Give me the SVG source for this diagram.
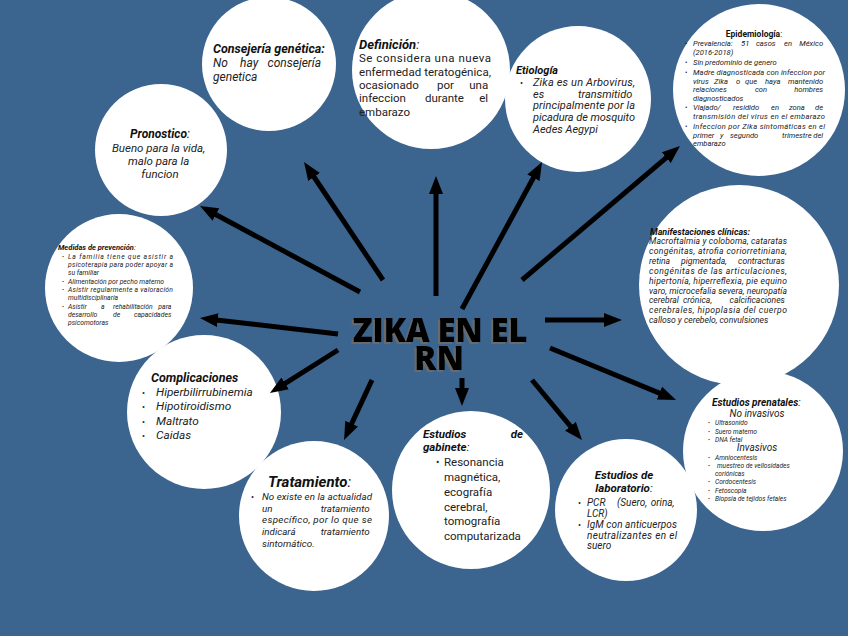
<svg xmlns="http://www.w3.org/2000/svg" width="848" height="636" viewBox="0 0 848 636">
<defs>
<style>
.c{fill:#ffffff}
.h{font-family:Roboto,"Liberation Sans",sans-serif;font-weight:700;font-style:italic;fill:#111}
.n{font-weight:400}
.b{font-family:Roboto,"Liberation Sans",sans-serif;font-style:italic;fill:#222}
.u{font-family:Roboto,"Liberation Sans",sans-serif;fill:#222}
.e{text-anchor:end}
.m{text-anchor:middle}
.ar line{stroke:#000;stroke-width:5;marker-end:url(#ah)}
.ti{font-family:"Open Sans","Liberation Sans",sans-serif;font-weight:800;font-size:33px;text-anchor:middle;fill:#000;filter:url(#sh)}
</style>
<filter id="sh" x="-10%" y="-20%" width="120%" height="140%">
<feDropShadow dx="-2" dy="2" stdDeviation="0.3" flood-color="#6a6a6a" flood-opacity="1"/>
</filter>
<marker id="ah" markerUnits="userSpaceOnUse" markerWidth="20" markerHeight="16" refX="6" refY="7" orient="auto">
<path d="M0,0 L18,7 L0,14 z" fill="#000"/>
</marker>
</defs>
<rect width="848" height="636" fill="#3b648e"/>

<g id="consejeria">
<circle class="c" cx="269" cy="64" r="67"/>
<text class="h" x="213" y="53" font-size="12.5">Consejería genética:</text>
<text class="b" font-size="12"><tspan x="213" y="67">No</tspan><tspan x="240" y="67">hay</tspan><tspan class="e" x="321" y="67">consejería</tspan><tspan x="213" y="81">genetica</tspan></text>
</g>

<g id="definicion">
<circle class="c" cx="431" cy="70" r="79"/>
<text class="h" x="359" y="49" font-size="13">Definición<tspan class="n">:</tspan></text>
<text class="u" font-size="11.5">
<tspan x="359" y="62" textLength="132" lengthAdjust="spacing">Se considera una nueva</tspan>
<tspan x="359" y="76" textLength="132" lengthAdjust="spacing">enfermedad teratogénica,</tspan>
<tspan x="359" y="89">ocasionado</tspan><tspan x="437" y="89">por</tspan><tspan class="e" x="491" y="89">una</tspan>
<tspan x="359" y="102">infeccion</tspan><tspan x="425" y="102">durante</tspan><tspan class="e" x="491" y="102">el</tspan>
<tspan x="359" y="116">embarazo</tspan>
</text>
</g>

<g id="etiologia">
<circle class="c" cx="578" cy="99" r="73"/>
<text class="h" x="516" y="74" font-size="11">Etiología</text>
<text class="u" x="520" y="86" font-size="9">•</text>
<text class="b" font-size="11">
<tspan x="533" y="86" textLength="102" lengthAdjust="spacing">Zika es un Arbovirus,</tspan>
<tspan x="533" y="97.5">es</tspan><tspan class="e" x="635" y="97.5">transmitido</tspan>
<tspan x="533" y="109" textLength="102" lengthAdjust="spacing">principalmente por la</tspan>
<tspan x="533" y="121" textLength="102" lengthAdjust="spacing">picadura de mosquito</tspan>
<tspan x="533" y="132.5">Aedes Aegypi</tspan>
</text>
</g>

<g id="epidemiologia">
<circle class="c" cx="759" cy="90" r="86"/>
<text class="h m" x="754" y="37" font-size="8.5" style="font-style:normal">Epidemiología<tspan class="n">:</tspan></text>
<text class="u" font-size="7"><tspan x="685" y="46">•</tspan><tspan x="685" y="65">•</tspan><tspan x="685" y="74.5">•</tspan><tspan x="685" y="110">•</tspan><tspan x="685" y="129">•</tspan></text>
<text class="b" font-size="7.6">
<tspan x="693" y="46">Prevalencia:</tspan><tspan x="741" y="46">51</tspan><tspan x="756" y="46">casos</tspan><tspan x="784" y="46">en</tspan><tspan class="e" x="825" y="46">México</tspan>
<tspan x="693" y="55">(2016-2018)</tspan>
<tspan x="693" y="65">Sin predominio de genero</tspan>
<tspan x="693" y="74.5" textLength="132" lengthAdjust="spacing">Madre diagnosticada con infeccion por</tspan>
<tspan x="693" y="83.5">virus</tspan><tspan x="714" y="83.5">Zika</tspan><tspan x="736" y="83.5">o</tspan><tspan x="745" y="83.5">que</tspan><tspan x="765" y="83.5">haya</tspan><tspan class="e" x="825" y="83.5">mantenido</tspan>
<tspan x="693" y="92">relaciones</tspan><tspan x="755" y="92">con</tspan><tspan class="e" x="825" y="92">hombres</tspan>
<tspan x="693" y="100.5">diagnosticados</tspan>
<tspan x="693" y="110">Viajado/</tspan><tspan x="733" y="110">residido</tspan><tspan x="771" y="110">en</tspan><tspan x="789" y="110">zona</tspan><tspan class="e" x="825" y="110">de</tspan>
<tspan x="693" y="119" textLength="132" lengthAdjust="spacing">transmisión del virus en el embarazo</tspan>
<tspan x="693" y="129" textLength="132" lengthAdjust="spacing">Infeccion por Zika sintomáticas en el</tspan>
<tspan x="693" y="137.5">primer</tspan><tspan x="720" y="137.5">y</tspan><tspan x="730" y="137.5">segundo</tspan><tspan x="782" y="137.5">trimestre</tspan><tspan class="e" x="825" y="137.5">del</tspan>
<tspan x="693" y="146">embarazo</tspan>
</text>
</g>

<g id="manifestaciones">
<circle class="c" cx="739" cy="285" r="100"/>
<text class="h" x="650" y="235" font-size="9">Manifestaciones clínicas:</text>
<text class="b" font-size="8.6">
<tspan x="649" y="244" textLength="138" lengthAdjust="spacing">Macroftalmia y coloboma, cataratas</tspan>
<tspan x="649" y="254" textLength="138" lengthAdjust="spacing">congénitas, atrofia coriorretiniana,</tspan>
<tspan x="649" y="264">retina</tspan><tspan x="681" y="264">pigmentada,</tspan><tspan class="e" x="787" y="264">contracturas</tspan>
<tspan x="649" y="274" textLength="138" lengthAdjust="spacing">congénitas de las articulaciones,</tspan>
<tspan x="649" y="283.5" textLength="138" lengthAdjust="spacing">hipertonía, hiperreflexia, pie equino</tspan>
<tspan x="649" y="293.5" textLength="138" lengthAdjust="spacing">varo, microcefalia severa, neuropatía</tspan>
<tspan x="649" y="303">cerebral</tspan><tspan x="683" y="303">crónica,</tspan><tspan class="e" x="787" y="303">calcificaciones</tspan>
<tspan x="649" y="313" textLength="138" lengthAdjust="spacing">cerebrales, hipoplasia del cuerpo</tspan>
<tspan x="649" y="323">calloso y cerebelo, convulsiones</tspan>
</text>
</g>

<g id="prenatales">
<circle class="c" cx="763" cy="451" r="80"/>
<text class="h" x="712" y="406" font-size="10">Estudios prenatales<tspan class="n">:</tspan></text>
<text class="b m" x="757" y="417" font-size="10">No invasivos</text>
<text class="b m" x="757" y="451" font-size="10">Invasivos</text>
<text class="u" font-size="6"><tspan x="708" y="425">•</tspan><tspan x="708" y="433.5">•</tspan><tspan x="708" y="441.5">•</tspan><tspan x="708" y="459.5">•</tspan><tspan x="708" y="467.5">•</tspan><tspan x="708" y="483.5">•</tspan><tspan x="708" y="492.5">•</tspan><tspan x="708" y="500.5">•</tspan></text>
<text class="b" font-size="6.6">
<tspan x="715" y="425">Ultrasonido</tspan>
<tspan x="715" y="433.5">Suero materno</tspan>
<tspan x="715" y="441.5">DNA fetal</tspan>
<tspan x="715" y="459.5">Amniocentesis</tspan>
<tspan x="717" y="467.5">muestreo de vellosidades</tspan>
<tspan x="715" y="475.5">coriónicas</tspan>
<tspan x="715" y="483.5">Cordocentesis</tspan>
<tspan x="715" y="492.5">Fetoscopia</tspan>
<tspan x="715" y="500.5">Biopsia de tejidos fetales</tspan>
</text>
</g>

<g id="laboratorio">
<circle class="c" cx="626" cy="510" r="71"/>
<text class="h m" x="624" y="479" font-size="11.5">Estudios de</text>
<text class="h m" x="624" y="492" font-size="11.5">laboratorio<tspan class="n">:</tspan></text>
<text class="u" font-size="9"><tspan x="578" y="506">•</tspan><tspan x="578" y="528">•</tspan></text>
<text class="b" font-size="10">
<tspan x="587" y="506">PCR</tspan><tspan x="617" y="506">(Suero,</tspan><tspan class="e" x="677" y="506">orina,</tspan>
<tspan x="587" y="516.5">LCR)</tspan>
<tspan x="587" y="528" textLength="90" lengthAdjust="spacing">IgM con anticuerpos</tspan>
<tspan x="587" y="538.5" textLength="90" lengthAdjust="spacing">neutralizantes en el</tspan>
<tspan x="587" y="549">suero</tspan>
</text>
</g>

<g id="gabinete">
<circle class="c" cx="471" cy="490" r="79"/>
<text class="h" font-size="11.5"><tspan x="423" y="438">Estudios</tspan><tspan class="e" x="523" y="438">de</tspan><tspan x="423" y="451">gabinete</tspan><tspan class="n">:</tspan></text>
<text class="u" x="436" y="466" font-size="10">•</text>
<text class="u" font-size="11.5">
<tspan x="444" y="466">Resonancia</tspan>
<tspan x="444" y="481">magnética,</tspan>
<tspan x="444" y="496">ecografía</tspan>
<tspan x="444" y="511">cerebral,</tspan>
<tspan x="444" y="525">tomografía</tspan>
<tspan x="444" y="540">computarizada</tspan>
</text>
</g>

<g id="tratamiento">
<circle class="c" cx="314" cy="516" r="75"/>
<text class="h" x="268" y="487" font-size="15">Tratamiento<tspan class="n">:</tspan></text>
<text class="u" x="251" y="500" font-size="9">•</text>
<text class="b" font-size="9.8">
<tspan x="262" y="500" textLength="110" lengthAdjust="spacing">No existe en la actualidad</tspan>
<tspan x="262" y="511.5">un</tspan><tspan class="e" x="372" y="511.5">tratamiento</tspan>
<tspan x="262" y="523" textLength="110" lengthAdjust="spacing">específico, por lo que se</tspan>
<tspan x="262" y="534.5">indicará</tspan><tspan class="e" x="372" y="534.5">tratamiento</tspan>
<tspan x="262" y="546.5">sintomático.</tspan>
</text>
</g>

<g id="complicaciones">
<circle class="c" cx="204" cy="412" r="77"/>
<text class="h" x="151" y="382" font-size="12.5">Complicaciones</text>
<text class="u" font-size="9"><tspan x="142" y="396">•</tspan><tspan x="142" y="410">•</tspan><tspan x="142" y="424.5">•</tspan><tspan x="142" y="438.5">•</tspan></text>
<text class="b" font-size="11.8">
<tspan x="156" y="396">Hiperbilirrubinemia</tspan>
<tspan x="156" y="410">Hipotiroidismo</tspan>
<tspan x="156" y="424.5">Maltrato</tspan>
<tspan x="156" y="438.5">Caidas</tspan>
</text>
</g>

<g id="prevencion">
<circle class="c" cx="119" cy="288" r="74"/>
<text class="h" x="58" y="250" font-size="7.5">Medidas de prevención<tspan class="n">:</tspan></text>
<text class="u" font-size="6"><tspan x="62" y="259">•</tspan><tspan x="62" y="284">•</tspan><tspan x="62" y="292">•</tspan><tspan x="62" y="309">•</tspan></text>
<text class="b" font-size="6.8">
<tspan x="68" y="259" textLength="105" lengthAdjust="spacing">La familia tiene que asistir a</tspan>
<tspan x="68" y="267" textLength="105" lengthAdjust="spacing">psicoterapia para poder apoyar a</tspan>
<tspan x="68" y="275">su familiar</tspan>
<tspan x="68" y="284">Alimentación por pecho materno</tspan>
<tspan x="68" y="292" textLength="105" lengthAdjust="spacing">Asistir regularmente a valoración</tspan>
<tspan x="68" y="300">multidisciplinaria</tspan>
<tspan x="68" y="309">Asistir</tspan><tspan x="101" y="309">a</tspan><tspan x="113" y="309">rehabilitación</tspan><tspan class="e" x="173" y="309">para</tspan>
<tspan x="68" y="317">desarrollo</tspan><tspan x="113" y="317">de</tspan><tspan class="e" x="173" y="317">capacidades</tspan>
<tspan x="68" y="325">psicomotoras</tspan>
</text>
</g>

<g id="pronostico">
<circle class="c" cx="161" cy="150" r="66"/>
<text class="h m" x="160" y="138" font-size="12">Pronostico<tspan class="n">:</tspan></text>
<text class="b m" font-size="11.5">
<tspan x="160" y="152">Bueno para la vida,</tspan>
<tspan x="160" y="165">malo para la</tspan>
<tspan x="160" y="178">funcion</tspan>
</text>
</g>

<g id="connectors" class="ar">
<line x1="383" y1="280" x2="310.7" y2="172"/>
<line x1="360" y1="292" x2="210.6" y2="211.7"/>
<line x1="436" y1="296" x2="436" y2="188"/>
<line x1="462" y1="309" x2="536.3" y2="172.5"/>
<line x1="522" y1="280" x2="670.8" y2="153.8"/>
<line x1="545" y1="320" x2="610" y2="320"/>
<line x1="550" y1="348" x2="664.9" y2="395.4"/>
<line x1="532" y1="380" x2="574.3" y2="430.8"/>
<line x1="462" y1="378" x2="462" y2="394"/>
<line x1="372" y1="380" x2="349.1" y2="429.1"/>
<line x1="338" y1="350" x2="280.1" y2="386.6"/>
<line x1="338" y1="334" x2="211.9" y2="319.4"/>
</g>

<g id="title">
<text class="ti" x="440" y="342" textLength="175" lengthAdjust="spacing">ZIKA EN EL</text>
<text class="ti" x="439" y="370">RN</text>
</g>
</svg>
